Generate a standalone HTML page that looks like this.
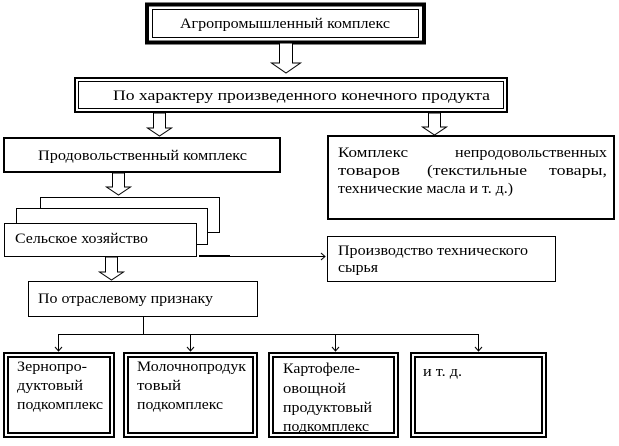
<!DOCTYPE html>
<html><head><meta charset="utf-8"><style>
body{margin:0;background:#fff}
svg text{font-family:"Liberation Serif",serif;font-size:14.5px;fill:#000}
</style></head><body>
<svg width="619" height="441" viewBox="0 0 619 441" xmlns="http://www.w3.org/2000/svg">
<g fill="none" stroke="#000">
<rect x="147" y="4.5" width="277" height="38" stroke-width="4"/>
<rect x="152.5" y="9.5" width="266" height="28" stroke-width="1"/>
<path d="M279.5 43v20h-8l14.5 10 14.5-10h-8v-20z" fill="#fff" stroke-width="1"/>
<rect x="75" y="78" width="432" height="34" stroke-width="2"/>
<rect x="78.5" y="81.5" width="425" height="27" stroke-width="1"/>
<path d="M153.5 113v15h-6l12 8 12-8h-6v-15z" fill="#fff"/>
<path d="M428.5 113v14h-6l12 8 12-8h-6v-14z" fill="#fff"/>
<rect x="4" y="138" width="276" height="34" stroke-width="2"/>
<rect x="328" y="136" width="286" height="83" stroke-width="2"/>
<path d="M112.5 173v14h-6l12 8 12-8h-6v-14z" fill="#fff"/>
<rect x="40.5" y="197.5" width="179" height="35" fill="#fff"/>
<rect x="16.5" y="208.5" width="191" height="36" fill="#fff"/>
<rect x="4.5" y="223.5" width="192" height="33" fill="#fff"/>
<line x1="199" y1="256.5" x2="325" y2="256.5"/>
<line x1="199" y1="256" x2="230" y2="256" stroke-width="2"/>
<path d="M321 253l4 3.5-4 3.5"/>
<rect x="327.5" y="236.5" width="228" height="45"/>
<path d="M105.5 257v15h-6l12 8 12-8h-6v-15z" fill="#fff"/>
<rect x="28.5" y="281.5" width="229" height="35"/>
<path d="M143.5 316v18M58.5 334.5H478.5M58.5 334v17M190.5 334v17M335.5 334v17M478.5 334v17"/>
<path d="M55 347l3.5 4 3.5-4M187 347l3.5 4 3.5-4M332 347l3.5 4 3.5-4M475 347l3.5 4 3.5-4"/>
<rect x="4" y="353" width="110" height="84" stroke-width="2"/>
<rect x="8" y="357" width="102" height="76" stroke-width="2"/>
<rect x="124" y="353" width="133" height="84" stroke-width="2"/>
<rect x="128" y="357" width="125" height="76" stroke-width="2"/>
<rect x="269" y="353" width="129" height="84" stroke-width="2"/>
<rect x="273" y="357" width="121" height="76" stroke-width="2"/>
<rect x="411" y="353" width="135" height="84" stroke-width="2"/>
<rect x="415" y="357" width="127" height="76" stroke-width="2"/>
</g>
<g>
<text x="180" y="28" textLength="210" lengthAdjust="spacingAndGlyphs">Агропромышленный комплекс</text>
<text x="113" y="100" textLength="377" lengthAdjust="spacingAndGlyphs">По характеру произведенного конечного продукта</text>
<text x="38" y="160" textLength="209" lengthAdjust="spacingAndGlyphs">Продовольственный комплекс</text>
<text x="338" y="157" textLength="70" lengthAdjust="spacingAndGlyphs">Комплекс</text>
<text x="607" y="157" text-anchor="end" textLength="152" lengthAdjust="spacingAndGlyphs">непродовольственных</text>
<text x="338" y="175" textLength="62" lengthAdjust="spacingAndGlyphs">товаров</text>
<text x="427" y="175" textLength="100" lengthAdjust="spacingAndGlyphs">(текстильные</text>
<text x="607" y="175" text-anchor="end" textLength="58" lengthAdjust="spacingAndGlyphs">товары,</text>
<text x="338" y="193" textLength="175" lengthAdjust="spacingAndGlyphs">технические масла и т. д.)</text>
<text x="15" y="243" textLength="133" lengthAdjust="spacingAndGlyphs">Сельское хозяйство</text>
<text x="338" y="255" textLength="190" lengthAdjust="spacingAndGlyphs">Производство технического</text>
<text x="338" y="272" textLength="40" lengthAdjust="spacingAndGlyphs">сырья</text>
<text x="38" y="303" textLength="175" lengthAdjust="spacingAndGlyphs">По отраслевому признаку</text>
<text x="17" y="371" textLength="70" lengthAdjust="spacingAndGlyphs">Зернопро-</text>
<text x="17" y="390" textLength="66" lengthAdjust="spacingAndGlyphs">дуктовый</text>
<text x="17" y="409" textLength="86" lengthAdjust="spacingAndGlyphs">подкомплекс</text>
<text x="137" y="371" textLength="109" lengthAdjust="spacingAndGlyphs">Молочнопродук</text>
<text x="137" y="390" textLength="44" lengthAdjust="spacingAndGlyphs">товый</text>
<text x="137" y="409" textLength="86" lengthAdjust="spacingAndGlyphs">подкомплекс</text>
<text x="283" y="373" textLength="77" lengthAdjust="spacingAndGlyphs">Картофеле-</text>
<text x="283" y="393" textLength="63" lengthAdjust="spacingAndGlyphs">овощной</text>
<text x="283" y="412" textLength="89" lengthAdjust="spacingAndGlyphs">продуктовый</text>
<text x="283" y="431" textLength="86" lengthAdjust="spacingAndGlyphs">подкомплекс</text>
<text x="423" y="376" textLength="39" lengthAdjust="spacingAndGlyphs">и т. д.</text>
</g>
</svg>
</body></html>
